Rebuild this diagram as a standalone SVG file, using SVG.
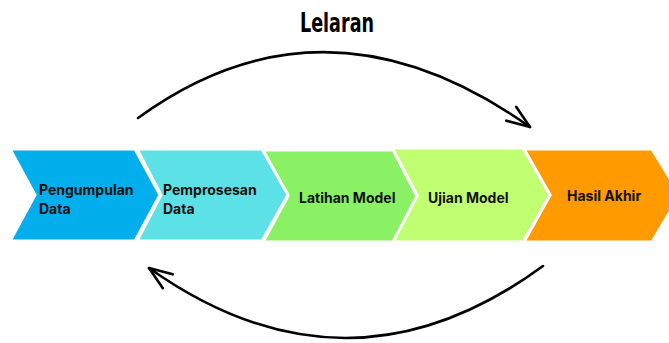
<svg xmlns="http://www.w3.org/2000/svg" width="669" height="343" viewBox="0 0 669 343">
<style>
.chev{stroke:#ffffff;stroke-width:3;stroke-linejoin:miter}
.lbl{font-family:Inter,"Liberation Sans",sans-serif;font-weight:700;font-size:14px;fill:#111111}
.title{font-family:"Liberation Sans Narrow","DejaVu Sans Condensed","Liberation Sans",sans-serif;font-weight:700;font-size:27px;fill:#000000}
.arc{fill:none;stroke:#000000;stroke-width:2.6;stroke-linecap:round}
</style>
<defs>
<marker id="arr" markerUnits="userSpaceOnUse" markerWidth="32" markerHeight="32" viewBox="-28 -16 32 32" refX="0" refY="0" orient="auto">
<path d="M-23,-8.5 L0,0 L-23,8.5" fill="none" stroke="#000000" stroke-width="2.6" stroke-linecap="round" stroke-linejoin="round"/>
</marker>
</defs>
<rect width="669" height="343" fill="#ffffff"/>
<text class="title" x="337" y="32" text-anchor="middle" textLength="74" lengthAdjust="spacingAndGlyphs">Lelaran</text>
<g id="connectors">
<path class="arc" d="M138,118 Q325,-18 530,127" marker-end="url(#arr)"/>
<path class="arc" d="M543,266 Q348,409 149,268" marker-end="url(#arr)"/>
</g>
<g id="node-hasil">
<path class="chev" fill="#FF9A00" d="M524,149 L652,149 L680,195 L652,242 L524,242 L550,195 Z"/>
<text class="lbl" x="567" y="201">Hasil Akhir</text>
</g>
<g id="node-ujian">
<path class="chev" fill="#C1FF72" d="M392,148 L523,148 L550,195 L523,242 L390,242 L417,195 Z"/>
<text class="lbl" x="428" y="203">Ujian Model</text>
</g>
<g id="node-latihan">
<path class="chev" fill="#8AF064" d="M263,150 L393,150 L417,196 L393,242 L263,242 L288,196 Z"/>
<text class="lbl" x="299" y="203">Latihan Model</text>
</g>
<g id="node-pemprosesan">
<path class="chev" fill="#5CE1E6" d="M137,149 L262,149 L288,195 L262,241 L137,241 L161,195 Z"/>
<text class="lbl" x="163" y="195">Pemprosesan</text>
<text class="lbl" x="163" y="214">Data</text>
</g>
<g id="node-pengumpulan">
<path class="chev" fill="#03AEEC" d="M10,149 L135,149 L160,195 L135,241 L10,241 L35,195 Z"/>
<text class="lbl" x="39" y="195">Pengumpulan</text>
<text class="lbl" x="39" y="214">Data</text>
</g>
</svg>
